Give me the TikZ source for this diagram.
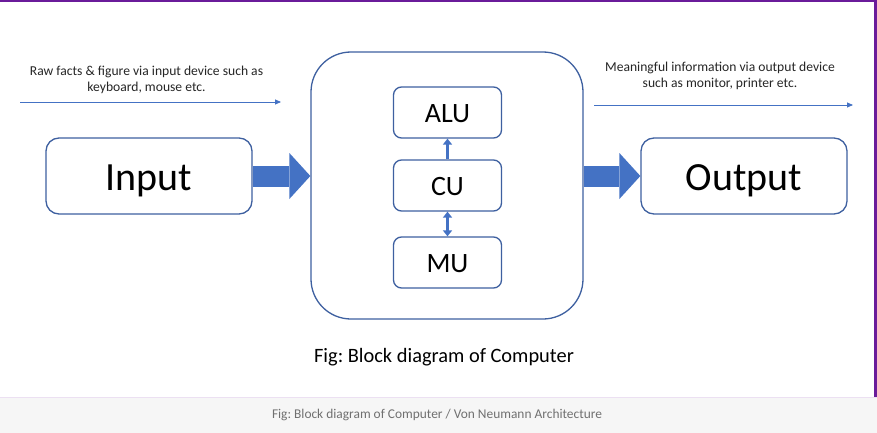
\documentclass[tikz,border=0pt]{standalone}
\usepackage{fontspec}
\setmainfont{Carlito}
\usepackage{xcolor}
\usetikzlibrary{arrows.meta}
\frenchspacing
\definecolor{boxline}{RGB}{62,96,160}
\definecolor{arrowblue}{RGB}{68,114,196}
\definecolor{frame}{RGB}{106,27,154}
\definecolor{band}{RGB}{246,246,246}
\definecolor{bandline}{RGB}{236,224,242}
\definecolor{captext}{RGB}{112,112,112}

\begin{document}
\begin{tikzpicture}[x=1pt, y=-1pt,
    unit/.style={draw=boxline, line width=1.3pt, fill=white, inner sep=0pt, text depth=0pt},
    bigbox/.style={unit, rounded corners=13pt, minimum width=206pt, minimum height=76pt, font=\fontsize{40}{48}\selectfont, text height=29pt},
    smallbox/.style={unit, rounded corners=8pt, minimum width=108pt, minimum height=51pt, font=\fontsize{28}{34}\selectfont, text height=20pt},
    note/.style={align=center, font=\fontsize{13.6}{16}\selectfont, text=black!85},
    fat/.style={draw=arrowblue, line width=21pt, -{Triangle[length=21pt, width=46pt, line width=0pt, fill=arrowblue]}},
    thin/.style={draw=arrowblue, line width=0.8pt, -{Triangle[length=6pt, width=5pt]}},
    link/.style={draw=arrowblue, line width=2.6pt, -{Triangle[length=6pt, width=9pt]}}]
        \useasboundingbox (0,0) rectangle (877,433);
        % Page
        \fill[white] (0,0) rectangle (877,433);
        \fill[band] (0,397) rectangle (877,433);
        \draw[bandline] (0,397) -- (877,397);
        \fill[frame] (0,0) rectangle (877,2);
        \fill[frame] (874,0) rectangle (877,397);

        % Nodes
        \node[bigbox] (input) at (149,176) {Input};
        \node[bigbox] (output) at (744,176) {Output};
        \node[unit, rounded corners=40pt, minimum width=272pt, minimum height=267pt] (cpu) at (447,185.5) {};
        \node[smallbox] (alu) at (447.5,112.5) {ALU};
        \node[smallbox] (cu) at (447.5,185.5) {CU};
        \node[smallbox] (mu) at (447.5,262.5) {MU};

        \node[note] (rawnote) at (146.5,80) {Raw facts \& figure via input device such as\\keyboard, mouse etc.};
        \node[note] (infonote) at (720,76) {Meaningful information via output device\\such as monitor, printer etc.};
        \coordinate (rawfrom) at (20,102);
        \coordinate (rawto) at (281,102);
        \coordinate (infofrom) at (594,105);
        \coordinate (infoto) at (853,105);

        \node[anchor=base, font=\fontsize{20.4}{24}\selectfont] (caption) at (444,362) {Fig: Block diagram of Computer};
        \node[anchor=base, font=\fontsize{13.4}{16}\selectfont, text=captext] (credit) at (437,418) {Fig: Block diagram of Computer / Von Neumann Architecture};

        % Arrows
        \draw[thin] (rawfrom) -- (rawto);
        \draw[thin] (infofrom) -- (infoto);
        \draw[fat] (input.east) -- (input.east -| cpu.west);
        \draw[fat] (cpu.east |- output.west) -- (output.west);
        \draw[link] (cu.north) -- (alu.south);
        \draw[link, {Triangle[length=6pt, width=9pt]}-{Triangle[length=6pt, width=9pt]}] (cu.south) -- (mu.north);
    \end{tikzpicture}
\end{document}
